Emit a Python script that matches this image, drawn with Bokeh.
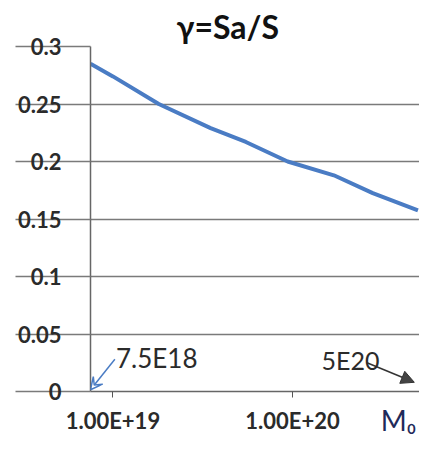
from bokeh.plotting import figure
from bokeh.models import (FixedTicker, CustomJSTickFormatter, Label, Arrow,
                          VeeHead, NormalHead, Range1d, Title)
from bokeh.embed import file_html
from bokeh.resources import INLINE

# ---- data ----
m0 = [7.5e18, 1.0e19, 1.8e19, 3.5e19, 5.5e19, 9.4e19, 1.7e20, 2.8e20, 5.0e20]
gamma = [0.285, 0.274, 0.250, 0.229, 0.217, 0.200, 0.188, 0.1725, 0.1575]

x_ticks = [1e19, 1e20]
x_tick_labels = ["1.00E+19", "1.00E+20"]
y_ticks = [0, 0.05, 0.1, 0.15, 0.2, 0.25, 0.3]
y_tick_labels = ["0", "0.05", "0.1", "0.15", "0.2", "0.25", "0.3"]

title_text = "γ=Sa/S"
x_label = "M₀"
annot_labels = ["7.5E18", "5E20"]
annot_x = [7.5e18, 5e20]

BLUE = "#4a7cc4"
GRID = "#7a7a7a"
TXT = "#2b2b2b"
FONT = "Lato"

p = figure(width=419, height=439, x_axis_type="log",
           x_range=Range1d(7.5e18, 5.1e20), y_range=Range1d(0, 0.3),
           output_backend="svg", toolbar_location=None,
           min_border_left=90, min_border_right=0,
           min_border_top=46, min_border_bottom=30)
p.outline_line_color = None
p.background_fill_color = "white"
p.border_fill_color = "white"

p.title = Title(text=title_text, align="left", offset=86, standoff=2,
                text_font=FONT, text_font_size="32px", text_font_style="bold",
                text_color="#111111")

p.line(m0, gamma, line_color=BLUE, line_width=4)

# grid
p.xgrid.visible = False
p.ygrid.grid_line_color = GRID
p.ygrid.grid_line_width = 1.5
p.ygrid.ticker = FixedTicker(ticks=y_ticks)

# y axis: long outward ticks continue the gridlines under the labels
ya = p.yaxis[0]
ya.ticker = FixedTicker(ticks=y_ticks)
ya.formatter = CustomJSTickFormatter(args=dict(tv=y_ticks, tl=y_tick_labels), code="""
let best = 0, bd = Infinity;
for (let i = 0; i < tv.length; i++) { const d = Math.abs(tick - tv[i]); if (d < bd) { bd = d; best = i; } }
return tl[best];
""")
ya.axis_line_color = "#666666"
ya.axis_line_width = 1.5
ya.major_tick_out = 75
ya.major_tick_in = 0
ya.major_tick_line_color = GRID
ya.major_tick_line_width = 1.5
ya.minor_tick_line_color = None
ya.major_label_standoff = -46
ya.major_label_text_font = FONT
ya.major_label_text_font_size = "22px"
ya.major_label_text_font_style = "bold"
ya.major_label_text_color = TXT

xa = p.xaxis[0]
xa.ticker = FixedTicker(ticks=x_ticks)
xa.formatter = CustomJSTickFormatter(args=dict(tv=x_ticks, tl=x_tick_labels), code="""
let best = 0, bd = Infinity;
for (let i = 0; i < tv.length; i++) { const d = Math.abs(Math.log10(tick) - Math.log10(tv[i])); if (d < bd) { bd = d; best = i; } }
return tl[best];
""")
xa.axis_line_color = "#666666"
xa.axis_line_width = 1.5
xa.major_tick_out = 6
xa.major_tick_in = 0
xa.major_tick_line_color = "#555555"
xa.minor_tick_line_color = None
xa.major_label_standoff = 9
xa.major_label_text_font = FONT
xa.major_label_text_font_size = "22px"
xa.major_label_text_font_style = "bold"
xa.major_label_text_color = TXT

# M0 label: centred axis label pushed to the right with non-breaking spaces
xa.axis_label = "\u00a0" * 40 + x_label
xa.axis_label_text_font = FONT
xa.axis_label_text_font_size = "28px"
xa.axis_label_text_font_style = "normal"
xa.axis_label_text_color = "#1f2a5a"
xa.axis_label_standoff = -34

# annotations
p.add_layout(Arrow(end=VeeHead(size=12, line_color=BLUE, line_width=1.5, fill_color=None),
                   x_start=1.025e19, y_start=0.028, x_end=annot_x[0], y_end=0.0015,
                   line_color=BLUE, line_width=1.5))
p.add_layout(Label(x=1.04e19, y=0.029, text=annot_labels[0], text_font=FONT,
                   text_font_size="26px", text_color=TXT, text_baseline="alphabetic"))

p.add_layout(Arrow(end=NormalHead(size=13, line_color="#333333", fill_color="#444444"),
                   x_start=2.6e20, y_start=0.025, x_end=4.77e20, y_end=0.008,
                   line_color="#333333", line_width=1.5))
p.add_layout(Label(x=1.45e20, y=0.027, text=annot_labels[1], text_font=FONT,
                   text_font_size="25px", text_color=TXT, text_baseline="alphabetic"))

open("out.html", "w").write(file_html(p, INLINE))
